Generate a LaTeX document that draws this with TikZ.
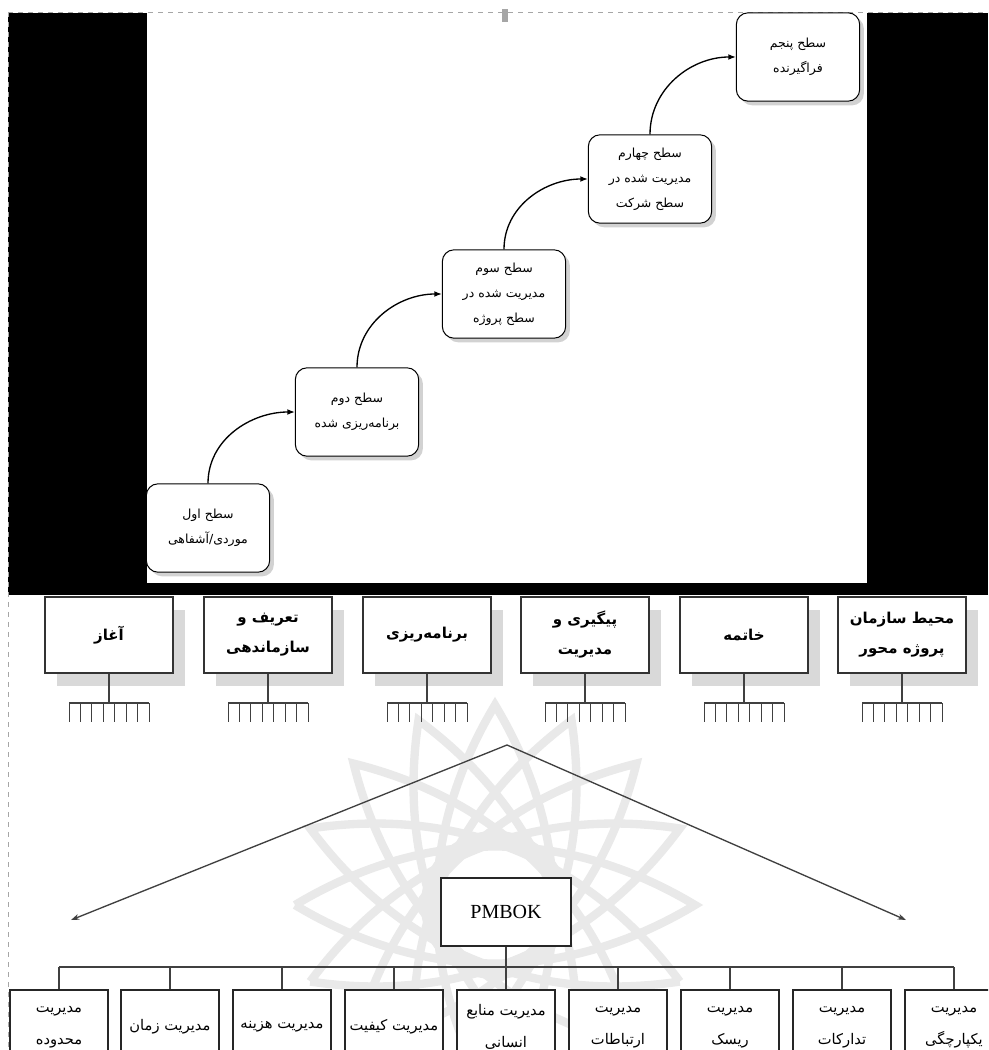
\documentclass[tikz,border=0pt]{standalone}
\usepackage{fontspec}
\setmainfont{Liberation Serif}
\newfontfamily\arabicfont[Script=Arabic]{DejaVu Sans}
\TeXXeTstate=1
\usetikzlibrary{arrows.meta,shadows}
\newcommand{\fatext}[1]{\beginR #1\endR}
\begin{document}
\begin{tikzpicture}[x=0.6pt,y=-0.6pt,
  stairbox/.style={draw, rounded corners=7pt, fill=white, minimum width=74pt, minimum height=53pt,
    align=center, inner sep=1pt, line width=0.6pt,
    font=\arabicfont\fontsize{7.5}{15}\selectfont,
    drop shadow={shadow xshift=2.5pt, shadow yshift=-2.5pt, fill=gray!35, opacity=1}},
  phasebox/.style={draw=black!80, fill=white, minimum width=76.8pt, minimum height=45.6pt,
    align=center, inner sep=1pt, line width=0.7pt,
    font=\arabicfont\bfseries\fontsize{9}{18}\selectfont,
    drop shadow={shadow xshift=7pt, shadow yshift=-8pt, fill=gray!30, opacity=1}},
  areabox/.style={draw=black!85, fill=white, minimum width=58.8pt, minimum height=44.4pt,
    align=center, inner sep=1pt, line width=1.2pt, anchor=north,
    font=\arabicfont\fontsize{8.8}{19}\selectfont},
  pmbox/.style={draw=black!85, fill=white, minimum width=78pt, minimum height=41pt,
    line width=1.1pt, font=\fontsize{12}{14}\selectfont},
  stairarrow/.style={-{Latex[length=4.5pt,width=3.5pt]}, line width=0.8pt, black},
  thinline/.style={draw=black!75, line width=0.7pt},
  varrow/.style={draw=black!75, line width=0.8pt, -{Stealth[length=5pt,width=3.5pt]}},
  dashedframe/.style={draw=gray!70, dashed, line width=0.5pt},
  watermark/.style={draw=gray!17, line width=5pt}
]
\useasboundingbox (0,0) rectangle (988,1050);
\clip (0,0) rectangle (988,1050);
\fill[white] (0,0) rectangle (988,1050);

% ---------- top black screen with white panel ----------
\fill[black] (8,13) rectangle (988,595);
\fill[white] (147,13) rectangle (867,583);
\draw[dashedframe] (8,12) -- (988,12);
\draw[dashedframe] (8,12) -- (8,1050);
\fill[gray!70] (502,9) rectangle (508,22);

% ---------- watermark (arabesque rosette) ----------
\begin{scope}[shift={(495,905)}]
  \foreach \a in {0,22.5,...,157.5}
    \draw[watermark, rotate=\a] (-200,0) .. controls (-70,78) and (70,78) .. (200,0)
      .. controls (70,-78) and (-70,-78) .. (-200,0);
  \draw[watermark] (0,0) circle [radius=70];
\end{scope}

% ---------- maturity stairs ----------
\node[stairbox] (s1) at (208,528) {\fatext{سطح اول}\\\fatext{موردی/آشفاهی}};
\node[stairbox] (s2) at (357,412) {\fatext{سطح دوم}\\\fatext{برنامه‌ریزی شده}};
\node[stairbox] (s3) at (504,294) {\fatext{سطح سوم}\\\fatext{مدیریت شده در}\\\fatext{سطح پروژه}};
\node[stairbox] (s4) at (650,179) {\fatext{سطح چهارم}\\\fatext{مدیریت شده در}\\\fatext{سطح شرکت}};
\node[stairbox] (s5) at (798,57) {\fatext{سطح پنجم}\\\fatext{فراگیرنده}};
\draw[stairarrow] (s1.north) to[out=90,in=180] (s2.west);
\draw[stairarrow] (s2.north) to[out=90,in=180] (s3.west);
\draw[stairarrow] (s3.north) to[out=90,in=180] (s4.west);
\draw[stairarrow] (s4.north) to[out=90,in=180] (s5.west);

% ---------- phases ----------
\node[phasebox] (t1) at (109,635) {\fatext{آغاز}};
\node[phasebox] (t2) at (268,635) {\fatext{تعریف و}\\\fatext{سازماندهی}};
\node[phasebox] (t3) at (427,635) {\fatext{برنامه‌ریزی}};
\node[phasebox] (t4) at (585,635) {\fatext{پیگیری و}\\\fatext{مدیریت}};
\node[phasebox] (t5) at (744,635) {\fatext{خاتمه}};
\node[phasebox] (t6) at (902,635) {\fatext{محیط سازمان}\\\fatext{پروژه محور}};
\foreach \i/\cx in {1/109,2/268,3/427,4/585,5/744,6/902}{
  \coordinate (c\i) at (\cx,703);
  \draw[thinline] (t\i.south) -- (c\i);
  \draw[thinline] ([xshift=-24pt]c\i) -- ([xshift=24pt]c\i);
  \foreach \k in {0,...,7}
    \draw[thinline, line width=0.6pt] ([xshift={-24pt+\k*48pt/7}]c\i) -- ++(0,19);
}

% ---------- PMBOK ----------
\coordinate (apex) at (507,745);
\coordinate (tipL) at (71,920);
\coordinate (tipR) at (906,920);
\draw[varrow] (apex) -- (tipL);
\draw[varrow] (apex) -- (tipR);

\node[pmbox] (pm) at (506,912) {PMBOK};

\node[areabox] (b1) at (59,989)  {\fatext{مدیریت}\\\fatext{محدوده}};
\node[areabox] (b2) at (170,989) {\fatext{مدیریت زمان}};
\node[areabox] (b3) at (282,989) {\fatext{مدیریت هزینه}};
\node[areabox] (b4) at (394,989) {\fatext{مدیریت کیفیت}};
\node[areabox] (b5) at (506,989) {\fatext{مدیریت منابع}\\\fatext{انسانی}};
\node[areabox] (b6) at (618,989) {\fatext{مدیریت}\\\fatext{ارتباطات}};
\node[areabox] (b7) at (730,989) {\fatext{مدیریت}\\\fatext{ریسک}};
\node[areabox] (b8) at (842,989) {\fatext{مدیریت}\\\fatext{تدارکات}};
\node[areabox] (b9) at (954,989) {\fatext{مدیریت}\\\fatext{یکپارچگی}};

\coordinate (busL) at (59,967);
\coordinate (busR) at (954,967);
\draw[thinline] (busL) -- (busR);
\draw[thinline] (pm.south) -- (pm.south |- busL);
\foreach \i in {1,...,9}
  \draw[thinline] (b\i.north |- busL) -- (b\i.north);
\end{tikzpicture}
\end{document}
